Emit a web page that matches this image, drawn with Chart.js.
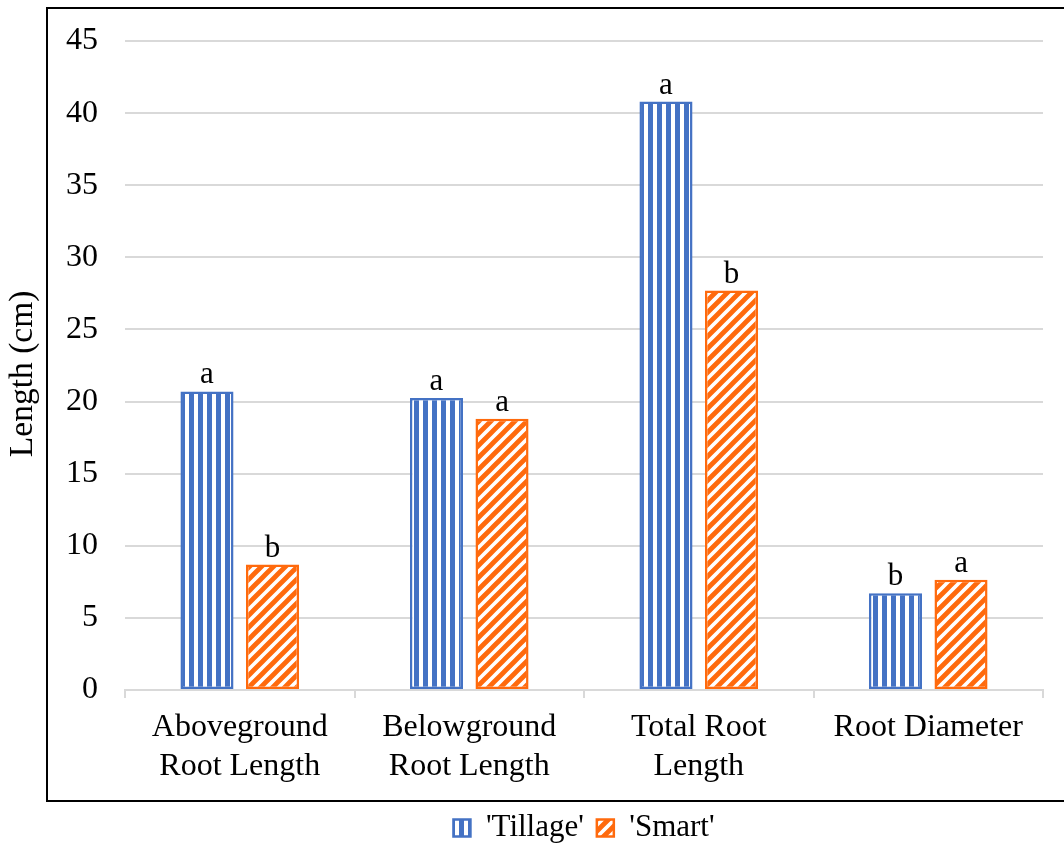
<!DOCTYPE html>
<html>
<head>
<meta charset="utf-8">
<script src="https://cdn.jsdelivr.net/npm/chart.js@4/dist/chart.umd.min.js"></script>
<style>
  html, body { margin: 0; padding: 0; background: #ffffff; }
  #wrap { width: 1064px; height: 848px; position: relative; }
</style>
</head>
<body>
<div id="wrap"><canvas id="c" width="1064" height="848"></canvas></div>
<script>
// ---- data ----
const categories = [['Aboveground', 'Root Length'], ['Belowground', 'Root Length'], ['Total Root', 'Length'], 'Root Diameter'];
const seriesNames = ["'Tillage'", "'Smart'"];
const tillageValues = [20.7, 20.25, 40.8, 6.7];
const smartValues = [8.7, 18.8, 27.7, 7.65];
const tillageLetters = ['a', 'a', 'a', 'b'];
const smartLetters = ['b', 'a', 'b', 'a'];
const yTickMax = 45;
const yTickStep = 5;
const yTitle = 'Length (cm)';

// ---- styles ----
const BLUE = '#4472C4';
const ORANGE = '#FF6A0D';
const FONT = '"Liberation Serif", "Times New Roman", serif';
const LEGEND_FONT = 31;
const LEGEND_PAD = 13;

function verticalStripes(color) {
  const c = document.createElement('canvas');
  c.width = 9; c.height = 9;
  const x = c.getContext('2d');
  x.fillStyle = '#ffffff'; x.fillRect(0, 0, 9, 9);
  x.fillStyle = color; x.fillRect(0, 0, 5, 9);
  return x.createPattern(c, 'repeat');
}
function diagonalStripes(color) {
  const s = 12;
  const c = document.createElement('canvas');
  c.width = s; c.height = s;
  const x = c.getContext('2d');
  x.fillStyle = '#ffffff'; x.fillRect(0, 0, s, s);
  x.strokeStyle = color; x.lineWidth = 4.8; x.lineCap = 'square';
  x.beginPath();
  x.moveTo(0, s); x.lineTo(s, 0);
  x.moveTo(-s / 2, s / 2); x.lineTo(s / 2, -s / 2);
  x.moveTo(s / 2, s + s / 2); x.lineTo(s + s / 2, s / 2);
  x.stroke();
  return x.createPattern(c, 'repeat');
}

const frameAndLetters = {
  id: 'frameAndLetters',
  beforeDraw(chart) {
    const ctx = chart.ctx;
    ctx.save();
    ctx.fillStyle = '#ffffff';
    ctx.fillRect(0, 0, chart.width, chart.height);
    ctx.restore();
    // centre the legend under the plot area, below the frame
    const lg = chart.legend;
    if (lg) {
      lg.left = chart.chartArea.left;
      lg.right = chart.chartArea.right;
      lg.width = lg.right - lg.left;
      lg.top = 828 - LEGEND_PAD - LEGEND_FONT / 2;
      lg.bottom = lg.top + lg.height;
    }
  },
  afterDatasetsDraw(chart) {
    const ctx = chart.ctx;
    const letters = [tillageLetters, smartLetters];
    ctx.save();
    ctx.fillStyle = '#000000';
    ctx.font = '31px ' + FONT;
    ctx.textAlign = 'center';
    ctx.textBaseline = 'alphabetic';
    chart.data.datasets.forEach((ds, i) => {
      const meta = chart.getDatasetMeta(i);
      meta.data.forEach((el, j) => {
        ctx.fillText(letters[i][j], el.x, el.y - 8);
      });
    });
    ctx.restore();
  },
  afterDraw(chart) {
    const ctx = chart.ctx;
    ctx.save();
    ctx.strokeStyle = '#000000';
    ctx.lineWidth = 2;
    ctx.strokeRect(47, 8, 1030, 793);
    ctx.restore();
  }
};

new Chart(document.getElementById('c'), {
  type: 'bar',
  data: {
    labels: categories,
    datasets: [
      {
        label: seriesNames[0],
        data: tillageValues,
        backgroundColor: verticalStripes(BLUE),
        borderColor: BLUE,
        borderWidth: 2.5,
        borderSkipped: false,
        categoryPercentage: 0.571,
        barPercentage: 0.81
      },
      {
        label: seriesNames[1],
        data: smartValues,
        backgroundColor: diagonalStripes(ORANGE),
        borderColor: ORANGE,
        borderWidth: 2.5,
        borderSkipped: false,
        categoryPercentage: 0.571,
        barPercentage: 0.81
      }
    ]
  },
  options: {
    responsive: false,
    animation: false,
    devicePixelRatio: 1,
    layout: { padding: { top: 41, right: 21, left: 0, bottom: 0 } },
    plugins: {
      legend: {
        position: 'bottom',
        labels: {
          boxWidth: 17,
          boxHeight: 17,
          color: '#000000',
          padding: LEGEND_PAD,
          font: { family: FONT, size: LEGEND_FONT }
        }
      },
      tooltip: { enabled: false }
    },
    scales: {
      x: {
        grid: {
          display: true,
          drawOnChartArea: false,
          drawTicks: true,
          tickLength: 8,
          color: '#d9d9d9',
          lineWidth: 2,
          offset: true
        },
        border: { display: true, color: '#d9d9d9', width: 2 },
        ticks: {
          color: '#000000',
          padding: 10,
          maxRotation: 0,
          autoSkip: false,
          font: { family: FONT, size: 32, lineHeight: 1.22 }
        },
        afterFit(scale) { scale.height = 104; }
      },
      y: {
        min: 0,
        max: yTickMax,
        ticks: {
          stepSize: yTickStep,
          color: '#000000',
          padding: 0,
          font: { family: FONT, size: 32 }
        },
        grid: { color: '#d9d9d9', lineWidth: 2, drawTicks: true, tickLength: 27, tickColor: 'rgba(0,0,0,0)' },
        border: { display: false },
        title: {
          display: true,
          text: yTitle + '  ',
          color: '#000000',
          font: { family: FONT, size: 33.5 },
          padding: { top: 3, bottom: 0 }
        },
        afterFit(scale) { scale.width = 125; }
      }
    }
  },
  plugins: [frameAndLetters]
});
</script>
</body>
</html>
